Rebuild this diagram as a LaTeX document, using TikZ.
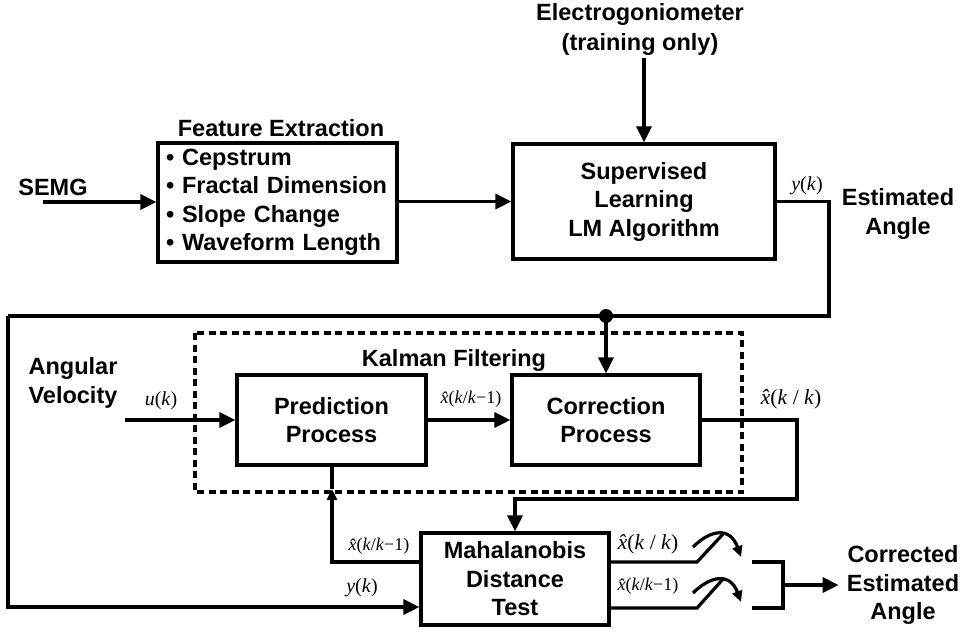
\documentclass[tikz,border=0pt]{standalone}
\usepackage[no-math]{fontspec}
\setmainfont{Liberation Sans}
\newfontfamily\serifit{Liberation Serif}
\usetikzlibrary{arrows.meta}
\newcommand{\xhat}{{\itshape x\char"0302}}
\begin{document}
\begin{tikzpicture}[x=1pt,y=-1pt,
  lbl/.style={font=\fontsize{23.5}{28.5}\selectfont\bfseries, align=center, inner sep=0pt},
  blk/.style={draw, line width=3.2pt, font=\fontsize{23.5}{28.5}\selectfont\bfseries, align=center, inner sep=0pt},
  wire/.style={line width=3.2pt},
  arr/.style={wire, -{Triangle[length=16pt,width=15pt]}},
  sarr/.style={wire, -{Triangle[length=11pt,width=10pt]}},
  mlab/.style={inner sep=0pt, font=\serifit\fontsize{20}{20}\selectfont},
  xlab/.style={inner sep=0pt, font=\serifit\fontsize{21.5}{21.5}\selectfont},
  slab/.style={inner sep=0pt, font=\serifit\fontsize{18}{18}\selectfont},
  kal/.style={line width=3.6pt, dash pattern=on 7pt off 4.5pt},
]
\useasboundingbox (0,0) rectangle (973,632);

% top row
\node[lbl] (semg) at (53,187) {SEMG};
\coordinate (semgin) at (43,202);
\node[blk, minimum width=239pt, minimum height=119pt, text width=223pt, align=left] (feat) at (277.5,202.5)
  {\textbullet\ Cepstrum\\\textbullet\ Fractal Dimension\\\textbullet\ Slope Change\\\textbullet\ Waveform Length};
\node[lbl] (feattitle) at (281,128) {Feature Extraction};
\node[blk, minimum width=262pt, minimum height=115pt] (sup) at (644,201.5) {Supervised\\Learning\\LM Algorithm};
\node[lbl, font=\fontsize{23.5}{30}\selectfont\bfseries] (elec) at (640,29) {Electrogoniometer\\(training only)};
\coordinate (elecb) at (644,58);
\node[lbl] (est) at (898,214) {Estimated\\Angle};
\node[mlab] (yk1) at (807,186) {\textit{y}(\textit{k})};

\draw[arr] (semgin) -- (feat.west |- semgin);
\draw[arr] (feat.east |- sup.west) -- (sup.west);
\draw[arr] (elecb) -- (elecb |- sup.north);

% y(k) loop
\coordinate (ytop) at (829,316);
\coordinate (yleft) at (8,316);
\coordinate (ybot) at (8,607);
\draw[wire] (sup.east) -| (ytop) -- (yleft);
\node[circle, fill, inner sep=0pt, minimum width=14pt, minimum height=13pt] (dot) at (606,316) {};

% Kalman filtering
\draw[kal] (195,333) rectangle (742,492);
\node[lbl] (kaltitle) at (454,360) {Kalman Filtering};
\node[blk, minimum width=189pt, minimum height=90pt] (pred) at (331.5,420) {Prediction\\Process};
\node[blk, minimum width=188pt, minimum height=90pt] (corr) at (606,420) {Correction\\Process};
\node[lbl] (angv) at (73,383) {Angular\\Velocity};
\node[mlab] (uk) at (161,401) {\textit{u}(\textit{k})};
\coordinate (uin) at (125,420);
\draw[arr] (uin) -- (pred.west);
\draw[arr] (pred.east) -- (corr.west);
\node[slab] (xp1) at (471,399) {\xhat(\textit{k}/\textit{k}−1)};
\draw[arr] (dot.center) -- (dot.center |- corr.north);
\node[xlab] (xc1) at (791,399) {\xhat(\textit{k} / \textit{k})};

% Mahalanobis
\node[blk, minimum width=188pt, minimum height=92pt] (mahal) at (515,579) {Mahalanobis\\Distance\\Test};
\coordinate (c2) at (797,499);
\draw[arr] (corr.east) -| (c2) -| (mahal.north);
\coordinate (ymid) at (0,607);
\draw[arr] (yleft) |- (mahal.west |- ymid);
\node[mlab] (yk2) at (362,588) {\textit{y}(\textit{k})};
\coordinate (fb) at (332,562);
\coordinate (fbtip) at (332,489);
\draw[wire] (fbtip) -- (fbtip |- pred.south);
\draw[sarr] (mahal.west |- fb) -- (fb) -- (fbtip);
\node[slab] (xp2) at (379,546) {\xhat(\textit{k}/\textit{k}−1)};

% switches
\coordinate (s1a) at (697,562);
\coordinate (s1b) at (724,533);
\coordinate (s2a) at (697,608);
\coordinate (s2b) at (724,578);
\draw[wire] (mahal.east |- s1a) -- (s1a) -- (s1b);
\draw[wire] (mahal.east |- s2a) -- (s2a) -- (s2b);
\coordinate (a1s) at (693,547);
\coordinate (a1e) at (741,557);
\coordinate (a2s) at (693,593);
\coordinate (a2e) at (741,602);
\draw[sarr] (a1s) .. controls (710,530) and (730,526) .. (a1e);
\draw[sarr] (a2s) .. controls (710,576) and (730,572) .. (a2e);
\node[xlab] (xc2) at (648,544) {\xhat(\textit{k} / \textit{k})};
\node[slab] (xp3) at (648,586) {\xhat(\textit{k}/\textit{k}−1)};

% bracket and output
\coordinate (b1) at (752,562);
\coordinate (b2) at (783,562);
\coordinate (b3) at (783,608);
\coordinate (b4) at (752,608);
\coordinate (bm) at (783,585);
\draw[wire] (b1) -- (b2) -- (b3) -- (b4);
\node[lbl] (cea) at (903,585) {Corrected\\Estimated\\Angle};
\draw[arr] (bm) -- ([xshift=-8pt]cea.west);
\end{tikzpicture}
\end{document}
